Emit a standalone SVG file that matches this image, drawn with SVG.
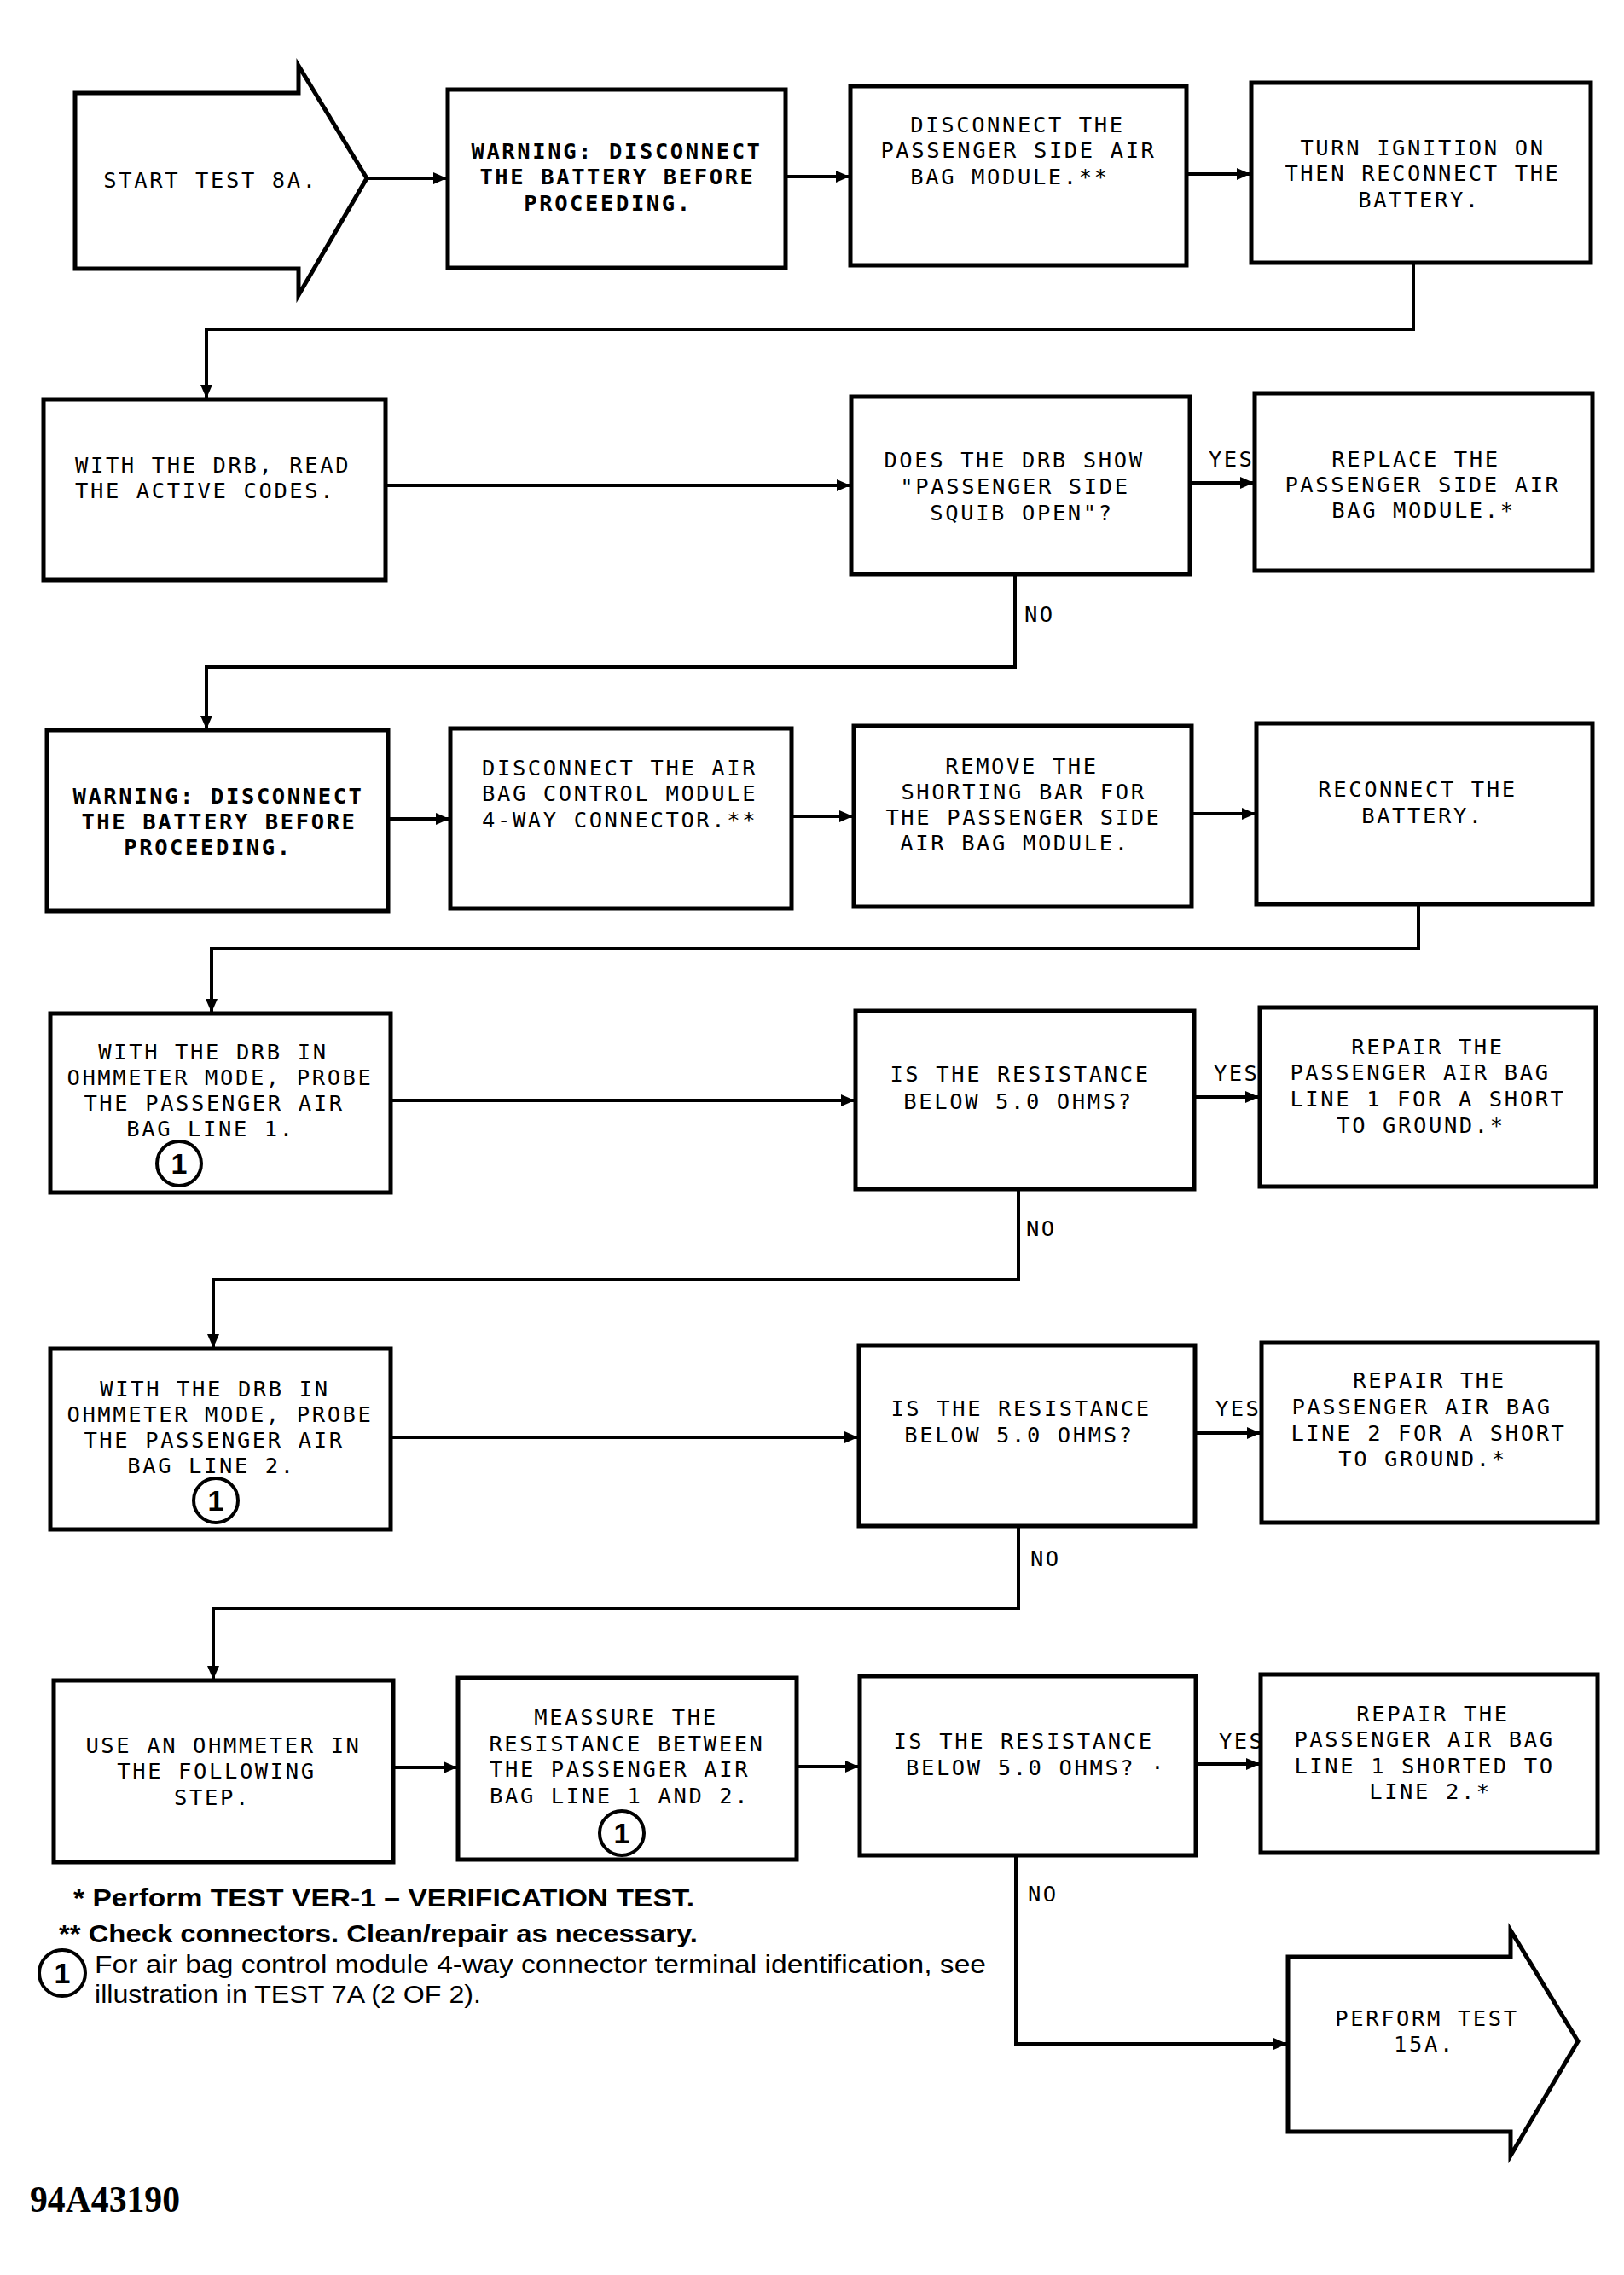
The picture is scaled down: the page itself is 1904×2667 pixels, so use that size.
<svg xmlns="http://www.w3.org/2000/svg" width="1904" height="2667" viewBox="0 0 1904 2667">
<style>
.box{fill:#fff;stroke:#000;stroke-width:5}
.con{fill:none;stroke:#000;stroke-width:4}
.t{font-family:"DejaVu Sans Mono","Liberation Mono",monospace;font-size:25.5px;letter-spacing:2.6px;fill:#000;text-anchor:middle}
.s{text-anchor:start}
.b{font-weight:bold}
.lbl{font-family:"DejaVu Sans Mono","Liberation Mono",monospace;font-size:25.5px;letter-spacing:2.4px;fill:#000}
.fn{font-family:"Liberation Sans",Arial,sans-serif;font-size:29px;fill:#000}
.cn{fill:#fff;stroke:#000;stroke-width:4}
.cnt{font-family:"Liberation Sans",Arial,sans-serif;font-size:34px;font-weight:bold;text-anchor:middle;fill:#000}
</style>
<defs>
<marker id="ah" markerUnits="userSpaceOnUse" markerWidth="16" markerHeight="14" refX="15" refY="7" orient="auto">
<path d="M0,0 L16,7 L0,14 Z" fill="#000"/>
</marker>
</defs>
<rect width="1904" height="2667" fill="#fff"/>

<g id="connectors">
<path class="con" d="M430,209 H523" marker-end="url(#ah)"/>
<path class="con" d="M921,207 H995" marker-end="url(#ah)"/>
<path class="con" d="M1391,204 H1465" marker-end="url(#ah)"/>
<path class="con" d="M1657,308 V386 H242 V466" marker-end="url(#ah)"/>
<path class="con" d="M452,569 H996" marker-end="url(#ah)"/>
<path class="con" d="M1395,566 H1469" marker-end="url(#ah)"/>
<path class="con" d="M1190,673 V782 H242 V854" marker-end="url(#ah)"/>
<path class="con" d="M455,960 H526" marker-end="url(#ah)"/>
<path class="con" d="M928,957 H999" marker-end="url(#ah)"/>
<path class="con" d="M1397,954 H1471" marker-end="url(#ah)"/>
<path class="con" d="M1663,1060 V1112 H248 V1186" marker-end="url(#ah)"/>
<path class="con" d="M458,1290 H1001" marker-end="url(#ah)"/>
<path class="con" d="M1400,1286 H1475" marker-end="url(#ah)"/>
<path class="con" d="M1194,1394 V1500 H250 V1579" marker-end="url(#ah)"/>
<path class="con" d="M458,1685 H1005" marker-end="url(#ah)"/>
<path class="con" d="M1401,1680 H1477" marker-end="url(#ah)"/>
<path class="con" d="M1194,1789 V1886 H250 V1968" marker-end="url(#ah)"/>
<path class="con" d="M461,2072 H535" marker-end="url(#ah)"/>
<path class="con" d="M934,2071 H1006" marker-end="url(#ah)"/>
<path class="con" d="M1402,2068 H1476" marker-end="url(#ah)"/>
<path class="con" d="M1191,2175 V2396 H1508" marker-end="url(#ah)"/>
<text class="lbl" x="1417" y="547">YES</text>
<text class="lbl" x="1201" y="729">NO</text>
<text class="lbl" x="1423" y="1267">YES</text>
<text class="lbl" x="1203" y="1449">NO</text>
<text class="lbl" x="1425" y="1660">YES</text>
<text class="lbl" x="1208" y="1836">NO</text>
<text class="lbl" x="1429" y="2050">YES</text>
<text class="lbl" x="1205" y="2229">NO</text>
</g>

<g id="start">
<polygon class="box" points="88,109 350,109 350,77 430,209 350,346 350,315 88,315"/>
<text class="t" x="247" y="220">START TEST 8A.</text>
</g>
<g id="warning1">
<rect class="box" x="525" y="105" width="396" height="209"/>
<text class="t b" x="723" y="186">WARNING:  DISCONNECT</text>
<text class="t b" x="724" y="216">THE BATTERY BEFORE</text>
<text class="t b" x="713" y="247">PROCEEDING.</text>
</g>
<g id="disconnect-module">
<rect class="box" x="997" y="101" width="394" height="210"/>
<text class="t" x="1193" y="155">DISCONNECT THE</text>
<text class="t" x="1194" y="185">PASSENGER SIDE AIR</text>
<text class="t" x="1184" y="216">BAG MODULE.**</text>
</g>
<g id="ignition-on">
<rect class="box" x="1467" y="97" width="398" height="211"/>
<text class="t" x="1668" y="182">TURN IGNITION ON</text>
<text class="t" x="1668" y="212">THEN RECONNECT THE</text>
<text class="t" x="1664" y="243">BATTERY.</text>
</g>

<g id="read-codes">
<rect class="box" x="51" y="468" width="401" height="212"/>
<text class="t s" x="88" y="554">WITH THE DRB, READ</text>
<text class="t s" x="88" y="584">THE ACTIVE CODES.</text>
</g>
<g id="squib-open">
<rect class="box" x="998" y="465" width="397" height="208"/>
<text class="t" x="1189" y="548">DOES THE DRB SHOW</text>
<text class="t" x="1190" y="579">"PASSENGER SIDE</text>
<text class="t" x="1198" y="610">SQUIB OPEN"?</text>
</g>
<g id="replace-module">
<rect class="box" x="1471" y="461" width="396" height="208"/>
<text class="t" x="1660" y="547">REPLACE THE</text>
<text class="t" x="1668" y="577">PASSENGER SIDE AIR</text>
<text class="t" x="1669" y="607">BAG MODULE.*</text>
</g>

<g id="warning2">
<rect class="box" x="55" y="856" width="400" height="212"/>
<text class="t b" x="256" y="942">WARNING:  DISCONNECT</text>
<text class="t b" x="257" y="972">THE BATTERY BEFORE</text>
<text class="t b" x="244" y="1002">PROCEEDING.</text>
</g>
<g id="disconnect-4way">
<rect class="box" x="528" y="854" width="400" height="211"/>
<text class="t s" x="565" y="909">DISCONNECT THE AIR</text>
<text class="t s" x="565" y="939">BAG CONTROL MODULE</text>
<text class="t s" x="565" y="970">4-WAY CONNECTOR.**</text>
</g>
<g id="remove-bar">
<rect class="box" x="1001" y="851" width="396" height="212"/>
<text class="t" x="1198" y="907">REMOVE THE</text>
<text class="t" x="1200" y="937">SHORTING BAR FOR</text>
<text class="t" x="1200" y="967">THE PASSENGER SIDE</text>
<text class="t" x="1190" y="997">AIR BAG MODULE.</text>
</g>
<g id="reconnect">
<rect class="box" x="1473" y="848" width="394" height="212"/>
<text class="t" x="1662" y="934">RECONNECT THE</text>
<text class="t" x="1668" y="965">BATTERY.</text>
</g>

<g id="probe-line1">
<rect class="box" x="59" y="1188" width="399" height="210"/>
<text class="t" x="250" y="1242">WITH THE DRB IN</text>
<text class="t" x="258" y="1272">OHMMETER MODE, PROBE</text>
<text class="t" x="251" y="1302">THE PASSENGER AIR</text>
<text class="t" x="247" y="1332">BAG LINE 1.</text>
<circle class="cn" cx="210" cy="1364" r="26"/>
<text class="cnt" x="210" y="1376">1</text>
</g>
<g id="resistance1">
<rect class="box" x="1003" y="1185" width="397" height="209"/>
<text class="t" x="1196" y="1268">IS THE RESISTANCE</text>
<text class="t" x="1194" y="1300">BELOW 5.0 OHMS?</text>
</g>
<g id="repair1">
<rect class="box" x="1477" y="1181" width="394" height="210"/>
<text class="t" x="1674" y="1236">REPAIR THE</text>
<text class="t" x="1665" y="1266">PASSENGER AIR BAG</text>
<text class="t" x="1674" y="1297">LINE 1 FOR A SHORT</text>
<text class="t" x="1666" y="1328">TO GROUND.*</text>
</g>

<g id="probe-line2">
<rect class="box" x="59" y="1581" width="399" height="212"/>
<text class="t" x="252" y="1637">WITH THE DRB IN</text>
<text class="t" x="258" y="1667">OHMMETER MODE, PROBE</text>
<text class="t" x="251" y="1697">THE PASSENGER AIR</text>
<text class="t" x="248" y="1727">BAG LINE 2.</text>
<circle class="cn" cx="253" cy="1759" r="26"/>
<text class="cnt" x="253" y="1771">1</text>
</g>
<g id="resistance2">
<rect class="box" x="1007" y="1577" width="394" height="212"/>
<text class="t" x="1197" y="1660">IS THE RESISTANCE</text>
<text class="t" x="1195" y="1691">BELOW 5.0 OHMS?</text>
</g>
<g id="repair2">
<rect class="box" x="1479" y="1574" width="394" height="211"/>
<text class="t" x="1676" y="1627">REPAIR THE</text>
<text class="t" x="1667" y="1658">PASSENGER AIR BAG</text>
<text class="t" x="1675" y="1689">LINE 2 FOR A SHORT</text>
<text class="t" x="1668" y="1719">TO GROUND.*</text>
</g>

<g id="use-ohmmeter">
<rect class="box" x="63" y="1970" width="398" height="213"/>
<text class="t" x="262" y="2055">USE AN OHMMETER IN</text>
<text class="t" x="254" y="2085">THE FOLLOWING</text>
<text class="t" x="249" y="2116">STEP.</text>
</g>
<g id="measure">
<rect class="box" x="537" y="1967" width="397" height="213"/>
<text class="t" x="734" y="2022">MEASSURE THE</text>
<text class="t" x="735" y="2053">RESISTANCE BETWEEN</text>
<text class="t s" x="574" y="2083">THE PASSENGER AIR</text>
<text class="t s" x="574" y="2114">BAG LINE 1 AND 2.</text>
<circle class="cn" cx="729" cy="2149" r="26"/>
<text class="cnt" x="729" y="2161">1</text>
</g>
<g id="resistance3">
<rect class="box" x="1008" y="1965" width="394" height="210"/>
<text class="t" x="1200" y="2050">IS THE RESISTANCE</text>
<text class="t s" x="1062" y="2081">BELOW 5.0 OHMS? ·</text>
</g>
<g id="repair3">
<rect class="box" x="1478" y="1963" width="395" height="209"/>
<text class="t" x="1680" y="2018">REPAIR THE</text>
<text class="t" x="1670" y="2048">PASSENGER AIR BAG</text>
<text class="t" x="1670" y="2079">LINE 1 SHORTED TO</text>
<text class="t" x="1677" y="2109">LINE 2.*</text>
</g>
<g id="perform-15a">
<polygon class="box" points="1510,2294 1771,2294 1771,2263 1850,2393 1771,2527 1771,2499 1510,2499"/>
<text class="t" x="1673" y="2375">PERFORM TEST</text>
<text class="t" x="1670" y="2405">15A.</text>
</g>

<g id="notes">
<text class="fn" x="86" y="2235" font-weight="bold" textLength="728" lengthAdjust="spacingAndGlyphs">* Perform TEST VER-1 – VERIFICATION TEST.</text>
<text class="fn" x="69" y="2277" font-weight="bold" textLength="749" lengthAdjust="spacingAndGlyphs">** Check connectors. Clean/repair as necessary.</text>
<circle cx="73" cy="2313" r="27" fill="#fff" stroke="#000" stroke-width="4"/>
<text class="cnt" x="73" y="2325">1</text>
<text class="fn" x="111" y="2313" textLength="1045" lengthAdjust="spacingAndGlyphs">For air bag control module 4-way connector terminal identification, see</text>
<text class="fn" x="111" y="2348" textLength="453" lengthAdjust="spacingAndGlyphs">illustration in TEST 7A (2 OF 2).</text>
<text x="35" y="2593" font-family="'Liberation Serif','Times New Roman',serif" font-size="44" font-weight="bold" textLength="176" lengthAdjust="spacingAndGlyphs" fill="#000">94A43190</text>
</g>
</svg>
